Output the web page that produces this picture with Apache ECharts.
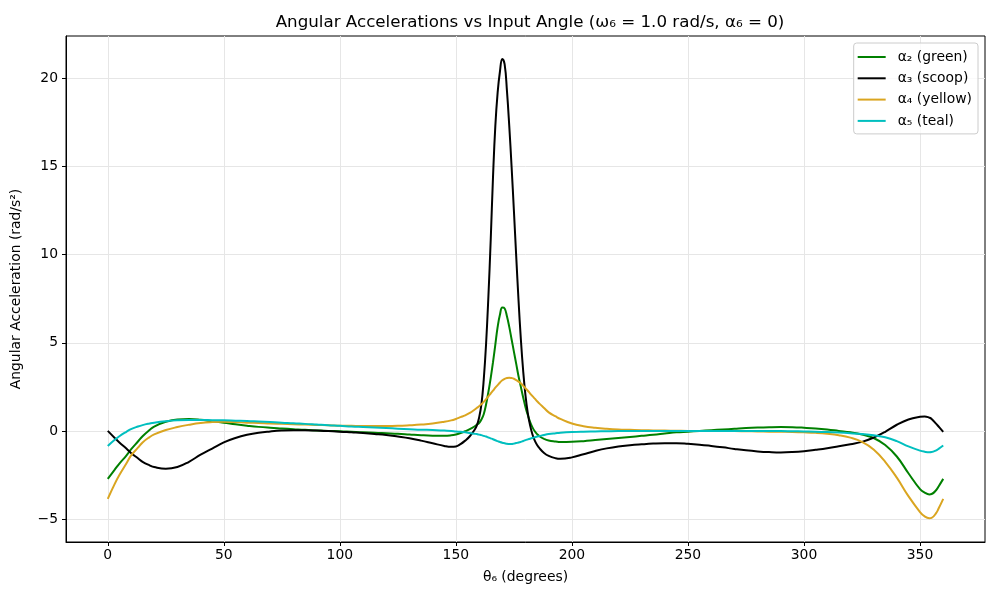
<!DOCTYPE html>
<html>
<head>
<meta charset="utf-8">
<script src="https://cdn.jsdelivr.net/npm/echarts@6/dist/echarts.min.js"></script>
<style>
  html, body { margin: 0; padding: 0; background: #fff; }
  #chart { width: 1000px; height: 600px; }
</style>
</head>
<body>
<div id="chart"></div>
<script>
// input angle θ6 (degrees)
const theta = [0, 3, 5, 8, 10, 13, 15, 18, 20, 25, 30, 35, 40, 45, 50, 55, 60, 65, 70, 75, 80, 85, 90, 95,
  100, 105, 110, 115, 120, 125, 130, 135, 140, 145, 148, 150, 152, 154, 156, 158, 159, 160, 161, 162, 163,
  164, 165, 166, 167, 168, 169, 170, 171, 172, 173, 174, 175, 176, 177, 178, 179, 180, 181, 182, 183, 184,
  185, 186, 188, 190, 193, 195, 200, 205, 210, 215, 220, 225, 230, 235, 240, 245, 250, 255, 260, 265, 270,
  275, 280, 285, 290, 295, 300, 305, 310, 315, 320, 325, 330, 335, 340, 345, 350, 352, 354, 355, 357, 358, 360];

// α2 (green)
const alpha2 = [-2.72, -2.2, -1.85, -1.4, -1.05, -0.6, -0.3, 0.05, 0.25, 0.52, 0.65, 0.67, 0.63, 0.55, 0.47, 0.38,
  0.3, 0.23, 0.18, 0.14, 0.1, 0.06, 0.03, 0.0, -0.02, -0.05, -0.08, -0.1, -0.13, -0.16, -0.2, -0.24, -0.27, -0.28,
  -0.25, -0.2, -0.12, -0.02, 0.1, 0.25, 0.35, 0.45, 0.65, 0.95, 1.5, 2.2, 3.0, 3.9, 4.9, 5.9, 6.6, 7.0, 6.95, 6.5,
  5.9, 5.2, 4.5, 3.8, 3.1, 2.5, 1.9, 1.35, 0.9, 0.5, 0.2, -0.02, -0.18, -0.3, -0.45, -0.54, -0.6, -0.63, -0.62,
  -0.58, -0.52, -0.46, -0.4, -0.34, -0.28, -0.22, -0.15, -0.08, -0.04, 0.0, 0.04, 0.08, 0.12, 0.16, 0.19, 0.21,
  0.22, 0.21, 0.18, 0.14, 0.08, 0.0, -0.08, -0.2, -0.4, -0.8, -1.45, -2.4, -3.3, -3.5, -3.6, -3.58, -3.35, -3.15, -2.72];

// α3 (scoop)
const alpha3 = [0.0, -0.4, -0.65, -1.0, -1.25, -1.55, -1.75, -1.95, -2.05, -2.15, -2.05, -1.75, -1.35, -1.0, -0.65,
  -0.4, -0.22, -0.1, -0.03, 0.02, 0.04, 0.04, 0.02, -0.01, -0.04, -0.08, -0.12, -0.17, -0.23, -0.32, -0.42, -0.55,
  -0.7, -0.85, -0.9, -0.88, -0.75, -0.55, -0.3, 0.05, 0.3, 0.75, 1.5, 2.9, 4.9, 7.6, 10.8, 14.4, 17.3, 19.2, 20.4,
  21.1, 20.8, 19.3, 17.3, 15.0, 12.5, 9.9, 7.4, 5.2, 3.4, 2.0, 1.0, 0.3, -0.2, -0.55, -0.8, -0.98, -1.25, -1.42,
  -1.55, -1.58, -1.5, -1.32, -1.14, -0.99, -0.88, -0.81, -0.76, -0.72, -0.7, -0.7, -0.73, -0.78, -0.85, -0.93,
  -1.02, -1.1, -1.16, -1.2, -1.22, -1.2, -1.15, -1.07, -0.98, -0.87, -0.75, -0.62, -0.38, -0.05, 0.35, 0.65, 0.8,
  0.82, 0.75, 0.68, 0.4, 0.25, -0.05];

// α4 (yellow)
const alpha4 = [-3.85, -3.0, -2.5, -1.85, -1.4, -0.95, -0.65, -0.35, -0.2, 0.05, 0.22, 0.35, 0.45, 0.5, 0.52, 0.5,
  0.47, 0.45, 0.42, 0.4, 0.38, 0.36, 0.34, 0.32, 0.3, 0.29, 0.28, 0.28, 0.28, 0.29, 0.32, 0.36, 0.42, 0.52, 0.6,
  0.68, 0.78, 0.88, 1.02, 1.2, 1.3, 1.4, 1.52, 1.65, 1.8, 1.96, 2.12, 2.28, 2.45, 2.6, 2.75, 2.87, 2.95, 3.0, 3.02,
  3.0, 2.96, 2.88, 2.8, 2.7, 2.56, 2.42, 2.28, 2.12, 1.97, 1.83, 1.68, 1.55, 1.3, 1.05, 0.82, 0.68, 0.42, 0.27,
  0.18, 0.12, 0.08, 0.06, 0.04, 0.03, 0.02, 0.01, 0.0, 0.0, 0.0, -0.01, -0.01, -0.02, -0.03, -0.04, -0.05, -0.06,
  -0.08, -0.11, -0.16, -0.24, -0.38, -0.62, -1.05, -1.75, -2.65, -3.7, -4.6, -4.85, -4.95, -4.93, -4.65, -4.4, -3.85];

// α5 (teal)
const alpha5 = [-0.85, -0.5, -0.3, -0.05, 0.1, 0.25, 0.33, 0.42, 0.47, 0.55, 0.6, 0.62, 0.62, 0.61, 0.6, 0.58, 0.56,
  0.53, 0.5, 0.47, 0.43, 0.4, 0.36, 0.32, 0.29, 0.25, 0.22, 0.19, 0.16, 0.13, 0.1, 0.07, 0.05, 0.02, 0.0, -0.03,
  -0.05, -0.08, -0.12, -0.16, -0.18, -0.21, -0.24, -0.28, -0.32, -0.37, -0.42, -0.47, -0.53, -0.58, -0.63, -0.67,
  -0.7, -0.73, -0.74, -0.74, -0.72, -0.69, -0.66, -0.62, -0.57, -0.52, -0.48, -0.44, -0.4, -0.36, -0.32, -0.29,
  -0.23, -0.18, -0.13, -0.1, -0.06, -0.04, -0.03, -0.02, -0.01, -0.01, 0.0, 0.0, 0.0, 0.0, 0.0, 0.0, 0.0, 0.0, 0.0,
  0.0, 0.0, -0.01, -0.01, -0.02, -0.03, -0.04, -0.06, -0.09, -0.13, -0.18, -0.25, -0.36, -0.58, -0.88, -1.12, -1.18,
  -1.21, -1.2, -1.1, -1.02, -0.83];

// tick labels
const xTicks = [0, 50, 100, 150, 200, 250, 300, 350];
const yTicks = [-5, 0, 5, 10, 15, 20];

const pairs = vals => theta.map((t, i) => [t, vals[i]]);

const font = 'DejaVu Sans';
const chart = echarts.init(document.getElementById('chart'));

const mkSeries = (name, vals, color) => ({
  name: name,
  type: 'line',
  data: pairs(vals),
  symbol: 'none',
  smooth: 0.45,
  lineStyle: { color: color, width: 2 },
  itemStyle: { color: color },
  z: 3
});

chart.setOption({
  animation: false,
  title: {
    text: 'Angular Accelerations vs Input Angle (ω₆ = 1.0 rad/s, α₆ = 0)',
    left: 525, top: 9, textAlign: 'center',
    textStyle: { fontFamily: font, fontSize: 16.7, fontWeight: 'normal', color: '#000' }
  },
  grid: {
    left: 66, right: 15, top: 36, bottom: 58,
    show: true, borderColor: '#000', borderWidth: 1, backgroundColor: 'transparent'
  },
  legend: {
    orient: 'vertical',
    right: 22, top: 43,
    padding: [6, 6, 5, 4],
    itemGap: 5.3,
    icon: 'rect',
    itemWidth: 28, itemHeight: 2,
    borderColor: '#cccccc', borderWidth: 1, borderRadius: 3,
    backgroundColor: 'rgba(255,255,255,0.8)',
    textStyle: { fontFamily: font, fontSize: 13.9, lineHeight: 16, color: '#000', padding: [0, 0, 0, 7] },
    data: ['α₂ (green)', 'α₃ (scoop)', 'α₄ (yellow)', 'α₅ (teal)']
  },
  xAxis: {
    type: 'value',
    min: -18, max: 378,
    name: 'θ₆ (degrees)',
    nameLocation: 'middle', nameGap: 28,
    nameTextStyle: { fontFamily: font, fontSize: 13.9, color: '#000' },
    axisLine: { show: true, onZero: false, lineStyle: { color: '#000', width: 1 } },
    axisTick: { show: true, length: 4, lineStyle: { color: '#000' }, customValues: xTicks },
    axisLabel: { fontFamily: font, fontSize: 13.9, color: '#000', margin: 6, customValues: xTicks },
    splitLine: { show: true, lineStyle: { color: '#e6e6e6', width: 1 } }
  },
  yAxis: {
    type: 'value',
    min: -6.3, max: 22.4,
    name: 'Angular Acceleration (rad/s²)',
    nameLocation: 'middle', nameGap: 43,
    nameTextStyle: { fontFamily: font, fontSize: 13.9, color: '#000' },
    axisLine: { show: true, onZero: false, lineStyle: { color: '#000', width: 1 } },
    axisTick: { show: true, length: 4, lineStyle: { color: '#000' }, customValues: yTicks },
    axisLabel: {
      fontFamily: font, fontSize: 13.9, color: '#000', margin: 8, customValues: yTicks,
      formatter: v => (v < 0 ? '\u2212' + Math.abs(v) : String(v))
    },
    splitLine: { show: true, lineStyle: { color: '#e6e6e6', width: 1 } }
  },
  series: [
    mkSeries('α₂ (green)', alpha2, '#008000'),
    mkSeries('α₃ (scoop)', alpha3, '#000000'),
    mkSeries('α₄ (yellow)', alpha4, '#DAA520'),
    mkSeries('α₅ (teal)', alpha5, '#00BFBF')
  ]
});
</script>
</body>
</html>
